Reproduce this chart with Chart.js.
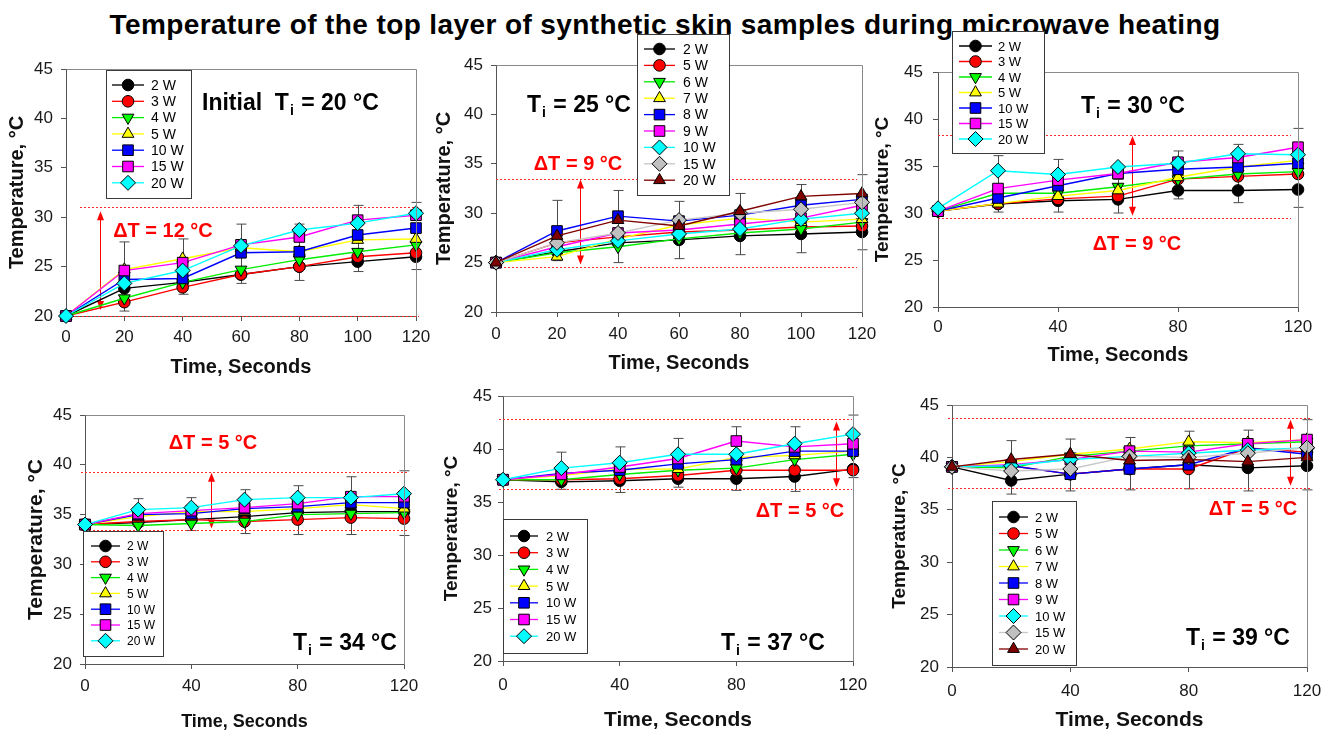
<!DOCTYPE html>
<html>
<head>
<meta charset="utf-8">
<script src="https://cdn.jsdelivr.net/npm/chart.js@4.4.1/dist/chart.umd.min.js"></script>
<style>
html,body{margin:0;padding:0;background:#fff;width:1322px;height:732px;overflow:hidden;position:relative;}
#title{position:absolute;left:4px;top:11px;width:1322px;text-align:center;font:bold 28px "Liberation Sans",Arial,sans-serif;letter-spacing:0.4px;line-height:28px;color:#000;white-space:nowrap;}
canvas.pc{position:absolute;left:0;top:0;width:1322px;height:760px;}
</style>
</head>
<body>
<div id="title">Temperature of the top layer of synthetic skin samples during microwave heating</div>
<script>
// ---------------- DATA ----------------
const times = [0, 20, 40, 60, 80, 100, 120];
const labelsA = ['2 W', '3 W', '4 W', '5 W', '10 W', '15 W', '20 W'];
const labelsB = ['2 W', '5 W', '6 W', '7 W', '8 W', '9 W', '10 W', '15 W', '20 W'];
const xTicksFine = [0, 20, 40, 60, 80, 100, 120];
const xTicksCoarse = [0, 40, 80, 120];
const yTicks = [20, 25, 30, 35, 40, 45];
const initialTemps = [20, 25, 30, 34, 37, 39];
const deltaT = [12, 9, 9, 5, 5, 5];

// Ti = 20 °C (2,3,4,5,10,15,20 W)
const ti20 = [
  [20, 22.8, 23.4, 24.2, 25.0, 25.5, 26.0],
  [20, 21.4, 22.9, 24.2, 25.0, 26.0, 26.4],
  [20, 21.8, 23.4, 24.7, 25.7, 26.5, 27.2],
  [20, 24.7, 25.8, 26.9, 26.5, 27.7, 27.8],
  [20, 23.7, 23.8, 26.4, 26.5, 28.2, 28.9],
  [20, 24.6, 25.4, 27.2, 28.0, 29.7, 30.2],
  [20, 23.3, 24.6, 27.1, 28.7, 29.4, 30.4]
];
const ti20ErrHigh = [null, 27.5, 27.8, 29.3, 29.3, 31.2, 31.5];
const ti20ErrLow  = [null, 20.5, 22.2, 23.3, 23.6, 24.5, 24.7];

// Ti = 25 °C (2,5,6,7,8,9,10,15,20 W)
const ti25 = [
  [25, 26.1, 27.0, 27.3, 27.7, 27.9, 28.1],
  [25, 27.0, 27.6, 28.1, 28.3, 28.6, 28.7],
  [25, 26.0, 26.6, 27.4, 28.0, 28.4, 29.1],
  [25, 25.6, 27.4, 28.8, 29.5, 29.1, 29.4],
  [25, 28.2, 29.7, 29.2, 29.8, 30.8, 31.4],
  [25, 26.6, 28.0, 28.3, 28.9, 29.5, 30.8],
  [25, 26.3, 27.2, 27.9, 28.4, 29.4, 30.0],
  [25, 27.0, 28.0, 29.3, 30.0, 30.4, 31.1],
  [25, 27.7, 29.3, 28.7, 30.2, 31.7, 32.0]
];
const ti25ErrHigh = [null, 31.3, 32.3, 31.2, 32.0, 32.9, 33.9];
const ti25ErrLow  = [null, 25.2, 25.0, 25.4, 25.8, 26.0, 26.3];

// Ti = 30 °C
const ti30 = [
  [30.2, 30.95, 31.3, 31.45, 32.4, 32.4, 32.5],
  [30.2, 31.0, 31.5, 31.8, 33.6, 33.9, 34.15],
  [30.2, 32.1, 32.1, 32.8, 33.6, 34.15, 34.4],
  [30.2, 31.0, 31.8, 32.4, 33.8, 34.9, 35.6],
  [30.2, 31.6, 32.9, 34.2, 34.65, 34.9, 35.3],
  [30.2, 32.6, 33.5, 34.2, 35.4, 35.9, 37.0],
  [30.5, 34.5, 34.1, 34.9, 35.3, 36.3, 36.2]
];
const ti30ErrHigh = [null, 36.1, 35.7, 33.6, 36.6, 37.3, 39.0];
const ti30ErrLow  = [null, 30.1, 30.1, 30.0, 31.5, 31.1, 30.6];

// Ti = 34 °C
const ti34 = [
  [34.0, 34.2, 34.5, 34.8, 35.2, 35.3, 35.3],
  [34.0, 34.3, 34.5, 34.3, 34.5, 34.7, 34.6],
  [34.0, 33.9, 34.1, 34.3, 35.0, 35.1, 35.2],
  [34.0, 34.8, 35.3, 35.3, 35.6, 36.0, 35.6],
  [34.0, 35.0, 35.1, 35.6, 35.8, 36.2, 36.2],
  [34.0, 35.1, 35.4, 35.7, 36.1, 36.8, 36.8],
  [34.0, 35.5, 35.7, 36.5, 36.7, 36.7, 37.1]
];
const ti34ErrHigh = [null, 36.6, 36.7, 37.5, 37.9, 38.8, 39.4];
const ti34ErrLow  = [null, 33.8, 33.4, 33.1, 33.0, 33.0, 32.9];

// Ti = 37 °C
const ti37 = [
  [37.1, 36.9, 37.0, 37.2, 37.2, 37.4, 38.1],
  [37.1, 37.1, 37.2, 37.5, 38.0, 38.0, 38.0],
  [37.1, 37.1, 37.6, 38.0, 38.2, 39.0, 39.5],
  [37.1, 37.5, 38.1, 38.1, 39.2, 39.4, 39.8],
  [37.1, 37.7, 38.0, 38.6, 39.0, 39.8, 39.8],
  [37.1, 37.6, 38.3, 39.1, 40.75, 40.2, 40.5],
  [37.1, 38.2, 38.7, 39.5, 39.5, 40.5, 41.4]
];
const ti37ErrHigh = [null, 39.7, 40.2, 41.0, 42.1, 42.1, 43.2];
const ti37ErrLow  = [null, 36.2, 35.9, 36.4, 36.1, 36.0, 37.3];

// Ti = 39 °C
const ti39 = [
  [39.1, 37.8, 38.4, 38.9, 39.3, 39.0, 39.2],
  [39.1, 39.2, 38.4, 38.9, 38.9, 40.9, 40.5],
  [39.1, 39.0, 40.1, 40.6, 41.1, 41.3, 41.5],
  [39.1, 39.6, 40.3, 40.8, 41.5, 41.4, 41.7],
  [39.1, 39.2, 38.4, 38.9, 39.3, 40.9, 40.3],
  [39.1, 39.3, 39.8, 40.6, 40.5, 41.3, 41.7],
  [39.1, 39.2, 39.8, 40.1, 40.4, 40.7, 40.9],
  [39.1, 38.7, 38.9, 40.1, 40.0, 40.4, 40.95],
  [39.1, 39.8, 40.3, 39.7, 39.8, 39.6, 40.0]
];
const ti39ErrHigh = [null, 41.6, 41.75, 41.9, 42.5, 42.6, 43.6];
const ti39ErrLow  = [null, 36.5, 36.8, 36.9, 37.0, 36.8, 36.9];

// ΔT guide lines (temperature levels and time spans)
const deltaTop    = [31.0, 33.5, 38.3, 39.3, 42.8, 43.8];
const deltaBottom = [20.0, 24.6, 29.5, 33.45, 36.2, 37.1];
const deltaTopFrom = [4.8, 0, 0, -1.5, -1.5, -1.4];
const deltaTo     = [121, 118.5, 117.8, 121.7, 119.7, 121.7];
const arrowTime   = [11.7, 27.6, 64.7, 47.4, 114.3, 114.1];
const arrowTop    = [30.6, 33.4, 38.2, 39.2, 42.6, 43.6];
const arrowBottom = [20.6, 24.8, 29.7, 33.6, 36.4, 37.3];

// ---------------- STYLE / LAYOUT ----------------
const FONT = '"Liberation Sans", Arial, sans-serif';
const RED = '#ff0000';
const stylesA = [
  {line:'#000000', fill:'#000000', shape:'circle',   rot:0,   r:5.8},
  {line:'#ff0000', fill:'#ff0000', shape:'circle',   rot:0,   r:5.8},
  {line:'#00ee00', fill:'#00ff00', shape:'triangle', rot:180, r:6.8},
  {line:'#ffff00', fill:'#ffff00', shape:'triangle', rot:0,   r:6.8},
  {line:'#0000ff', fill:'#0000ff', shape:'rect',     rot:0,   r:7.5},
  {line:'#ff00ff', fill:'#ff00ff', shape:'rect',     rot:0,   r:7.5},
  {line:'#00ffff', fill:'#00ffff', shape:'rectRot',  rot:0,   r:7.5}
];
const stylesB = [
  {line:'#000000', fill:'#000000', shape:'circle',   rot:0,   r:5.8},
  {line:'#ff0000', fill:'#ff0000', shape:'circle',   rot:0,   r:5.8},
  {line:'#00ee00', fill:'#00ff00', shape:'triangle', rot:180, r:6.8},
  {line:'#ffff00', fill:'#ffff00', shape:'triangle', rot:0,   r:6.8},
  {line:'#0000ff', fill:'#0000ff', shape:'rect',     rot:0,   r:7.5},
  {line:'#ff00ff', fill:'#ff00ff', shape:'rect',     rot:0,   r:7.5},
  {line:'#00ffff', fill:'#00ffff', shape:'rectRot',  rot:0,   r:7.5},
  {line:'#c8c8c8', fill:'#c0c0c0', shape:'rectRot',  rot:0,   r:7.5},
  {line:'#800000', fill:'#800000', shape:'triangle', rot:0,   r:6.8}
];

const panelData = [
  {values: ti20, labels: labelsA, styles: stylesA, xTicks: xTicksFine,   errHigh: ti20ErrHigh, errLow: ti20ErrLow},
  {values: ti25, labels: labelsB, styles: stylesB, xTicks: xTicksFine,   errHigh: ti25ErrHigh, errLow: ti25ErrLow},
  {values: ti30, labels: labelsA, styles: stylesA, xTicks: xTicksCoarse, errHigh: ti30ErrHigh, errLow: ti30ErrLow},
  {values: ti34, labels: labelsA, styles: stylesA, xTicks: xTicksCoarse, errHigh: ti34ErrHigh, errLow: ti34ErrLow},
  {values: ti37, labels: labelsA, styles: stylesA, xTicks: xTicksCoarse, errHigh: ti37ErrHigh, errLow: ti37ErrLow},
  {values: ti39, labels: labelsB, styles: stylesB, xTicks: xTicksCoarse, errHigh: ti39ErrHigh, errLow: ti39ErrLow}
];

const layouts = [
  {l:66, t:69, r:416, b:316, yTitleX:17, yTitleSize:20, xTitleY:367, xTitleSize:20, yTickPad:8, xTickPad:6,
   legend:{x:106, y:70, w:85, h:128, y0:85, dy:16.3, lx1:112, lx2:144, tx:151, font:14},
   ti:{x:202, y:110, pre:'Initial  T', size:23}, dt:{x:163, y:237}},
  {l:496, t:65, r:862, b:312, yTitleX:444, yTitleSize:20, xTitleY:363, xTitleSize:20, yTickPad:8, xTickPad:7,
   legend:{x:637, y:34, w:92, h:161, y0:49, dy:16.4, lx1:644, lx2:675, tx:683, font:14},
   ti:{x:527, y:112, pre:'T', size:23}, dt:{x:578, y:170}},
  {l:938, t:72, r:1298, b:307, yTitleX:883, yTitleSize:19, xTitleY:355, xTitleSize:20, yTickPad:10, xTickPad:5,
   legend:{x:952, y:31, w:92, h:122, y0:46, dy:15.5, lx1:959, lx2:992, tx:998, font:13},
   ti:{x:1081, y:113, pre:'T', size:23}, dt:{x:1137, y:250}},
  {l:85, t:415, r:404, b:664, yTitleX:36, yTitleSize:21, xTitleY:722, xTitleSize:18, yTickPad:8, xTickPad:7.5,
   legend:{x:83, y:531, w:80, h:125, y0:546, dy:15.8, lx1:91, lx2:120, tx:127, font:12},
   ti:{x:293, y:650, pre:'T', size:23}, dt:{x:213, y:449}},
  {l:503, t:396, r:853, b:661, yTitleX:452, yTitleSize:19, xTitleY:720, xTitleSize:21, yTickPad:6, xTickPad:8.8,
   legend:{x:503, y:519, w:84, h:134, y0:536, dy:16.7, lx1:510, lx2:538, tx:546, font:13},
   ti:{x:721, y:650, pre:'T', size:23}, dt:{x:800, y:517}},
  {l:952, t:405, r:1307, b:667, yTitleX:900, yTitleSize:19, xTitleY:720, xTitleSize:21, yTickPad:8, xTickPad:9.5,
   legend:{x:992, y:501, w:84, h:164, y0:517, dy:16.5, lx1:999, lx2:1028, tx:1035, font:13},
   ti:{x:1186, y:645, pre:'T', size:23}, dt:{x:1253, y:515}}
];

// ---------------- DRAWING ----------------
function drawArrowHead(ctx, x, y, dir) {
  ctx.beginPath();
  ctx.moveTo(x, y);
  ctx.lineTo(x - 3.5, y + dir * 9);
  ctx.lineTo(x + 3.5, y + dir * 9);
  ctx.closePath();
  ctx.fill();
}

function makeDecor(idx) {
  const d = panelData[idx], L = layouts[idx];
  return {
    id: 'decor' + idx,
    beforeDatasetsDraw(chart) {
      const ctx = chart.ctx, xs = chart.scales.x, ys = chart.scales.y;
      ctx.save();
      // error bars
      ctx.strokeStyle = '#4a4a4a';
      ctx.lineWidth = 1;
      times.forEach((t, j) => {
        if (d.errHigh[j] == null) return;
        const x = Math.round(xs.getPixelForValue(t)) + 0.5;
        const y1 = ys.getPixelForValue(d.errHigh[j]);
        const y2 = ys.getPixelForValue(d.errLow[j]);
        ctx.beginPath();
        ctx.moveTo(x, y1); ctx.lineTo(x, y2);
        ctx.moveTo(x - 5, y1); ctx.lineTo(x + 5, y1);
        ctx.moveTo(x - 5, y2); ctx.lineTo(x + 5, y2);
        ctx.stroke();
      });
      // dotted delta lines
      ctx.strokeStyle = '#ff2a2a';
      ctx.lineWidth = 1;
      ctx.setLineDash([2, 2]);
      const xEnd = Math.round(xs.getPixelForValue(deltaTo[idx]));
      const yT = Math.round(ys.getPixelForValue(deltaTop[idx])) + 0.5;
      const yB = Math.round(ys.getPixelForValue(deltaBottom[idx])) + 0.5;
      ctx.beginPath();
      ctx.moveTo(Math.round(xs.getPixelForValue(deltaTopFrom[idx])), yT); ctx.lineTo(xEnd, yT);
      ctx.stroke();
      ctx.beginPath();
      ctx.moveTo(Math.round(xs.getPixelForValue(Math.min(0, deltaTopFrom[idx]))), yB); ctx.lineTo(xEnd, yB);
      ctx.stroke();
      ctx.setLineDash([]);
      // arrow
      const ax = Math.round(xs.getPixelForValue(arrowTime[idx])) + 0.5;
      const ay1 = ys.getPixelForValue(arrowTop[idx]);
      const ay2 = ys.getPixelForValue(arrowBottom[idx]);
      ctx.strokeStyle = RED; ctx.fillStyle = RED; ctx.lineWidth = 1;
      ctx.beginPath(); ctx.moveTo(ax, ay1 + 6); ctx.lineTo(ax, ay2 - 6); ctx.stroke();
      drawArrowHead(ctx, ax, ay1, 1);
      drawArrowHead(ctx, ax, ay2, -1);
      ctx.restore();
    },
    afterDraw(chart) {
      const ctx = chart.ctx, a = chart.chartArea;
      ctx.save();
      // frame (top / right)
      ctx.strokeStyle = '#8a8a8a'; ctx.lineWidth = 1;
      ctx.beginPath();
      ctx.moveTo(Math.round(a.left) + 0.5, Math.round(a.top) + 0.5);
      ctx.lineTo(Math.round(a.right) + 0.5, Math.round(a.top) + 0.5);
      ctx.lineTo(Math.round(a.right) + 0.5, Math.round(a.bottom) + 0.5);
      ctx.stroke();
      // legend
      const g = L.legend;
      ctx.fillStyle = '#fff';
      ctx.fillRect(g.x, g.y, g.w, g.h);
      ctx.strokeStyle = '#3a3a3a';
      ctx.strokeRect(g.x + 0.5, g.y + 0.5, g.w, g.h);
      d.labels.forEach((lab, i) => {
        const st = d.styles[i];
        const y = g.y0 + i * g.dy;
        ctx.strokeStyle = st.line; ctx.lineWidth = 1.3;
        ctx.beginPath(); ctx.moveTo(g.lx1, y); ctx.lineTo(g.lx2, y); ctx.stroke();
        ctx.fillStyle = st.fill; ctx.strokeStyle = '#000'; ctx.lineWidth = 1;
        Chart.helpers.drawPoint(ctx, {pointStyle: st.shape, rotation: st.rot, radius: st.r, borderWidth: 1}, (g.lx1 + g.lx2) / 2, y);
        ctx.fillStyle = '#000';
        ctx.font = g.font + 'px ' + FONT;
        ctx.textAlign = 'left'; ctx.textBaseline = 'middle';
        ctx.fillText(lab, g.tx, y + 1);
      });
      // Ti label
      const ti = L.ti;
      ctx.fillStyle = '#000'; ctx.textAlign = 'left'; ctx.textBaseline = 'alphabetic';
      ctx.font = 'bold ' + ti.size + 'px ' + FONT;
      ctx.fillText(ti.pre, ti.x, ti.y);
      let w = ctx.measureText(ti.pre).width;
      ctx.font = 'bold ' + Math.round(ti.size * 0.6) + 'px ' + FONT;
      ctx.fillText('i', ti.x + w + 1, ti.y + 5);
      w += ctx.measureText('i').width + 2;
      ctx.font = 'bold ' + ti.size + 'px ' + FONT;
      ctx.fillText(' = ' + initialTemps[idx] + ' °C', ti.x + w, ti.y);
      // delta T label
      ctx.fillStyle = RED; ctx.textAlign = 'center';
      ctx.font = 'bold 20px ' + FONT;
      ctx.fillText('\u0394T = ' + deltaT[idx] + ' °C', L.dt.x, L.dt.y);
      ctx.restore();
    }
  };
}

function buildPanel(idx) {
  const d = panelData[idx], L = layouts[idx];
  const canvas = document.createElement('canvas');
  canvas.width = 1322; canvas.height = 760;
  canvas.className = 'pc';
  document.body.appendChild(canvas);
  const n = d.values.length;
  const datasets = d.values.map((vals, i) => {
    const st = d.styles[i];
    return {
      label: d.labels[i],
      data: vals.map((v, j) => ({x: times[j], y: v})),
      borderColor: st.line, backgroundColor: st.fill, borderWidth: 1.4,
      pointStyle: st.shape, pointRotation: st.rot, pointRadius: st.r, pointHoverRadius: st.r,
      pointBackgroundColor: st.fill, pointBorderColor: '#000', pointBorderWidth: 1,
      tension: 0, fill: false, order: n - i, clip: false
    };
  });
  const yBoxLeft = L.yTitleX - L.yTitleSize * 0.6;
  const Wy = L.l - yBoxLeft;
  const xBoxBottom = L.xTitleY + L.xTitleSize * 0.6;
  const Hx = xBoxBottom - L.b;
  const zeroPad = s => { s.paddingLeft = 0; s.paddingRight = 0; s.paddingTop = 0; s.paddingBottom = 0; };
  new Chart(canvas, {
    type: 'line',
    data: {datasets},
    options: {
      responsive: false, animation: false, devicePixelRatio: 1, events: [],
      layout: {padding: {left: yBoxLeft, top: L.t, right: 1322 - L.r, bottom: 760 - xBoxBottom}},
      plugins: {legend: {display: false}, tooltip: {enabled: false}, title: {display: false}},
      scales: {
        x: {
          type: 'linear', min: 0, max: 120,
          afterBuildTicks: s => { s.ticks = d.xTicks.map(v => ({value: v})); },
          afterFit: s => { s.height = Hx; zeroPad(s); },
          ticks: {font: {family: FONT, size: 17}, color: '#1a1a1a', padding: L.xTickPad, maxRotation: 0, autoSkip: false},
          grid: {drawOnChartArea: false, tickLength: 5, color: '#555'},
          border: {color: '#555', width: 1},
          title: {display: true, text: 'Time, Seconds', color: '#111', padding: 0,
                  font: {family: FONT, size: L.xTitleSize, weight: 'bold'}}
        },
        y: {
          type: 'linear', min: 20, max: 45,
          afterBuildTicks: s => { s.ticks = yTicks.map(v => ({value: v})); },
          afterFit: s => { s.width = Wy; zeroPad(s); },
          ticks: {font: {family: FONT, size: 17}, color: '#1a1a1a', padding: L.yTickPad},
          grid: {drawOnChartArea: false, tickLength: 5, color: '#555'},
          border: {color: '#555', width: 1},
          title: {display: true, text: 'Temperature, °C', color: '#111', padding: 0,
                  font: {family: FONT, size: L.yTitleSize, weight: 'bold'}}
        }
      }
    },
    plugins: [makeDecor(idx)]
  });
}

for (let i = 0; i < panelData.length; i++) buildPanel(i);
</script>
</body>
</html>
